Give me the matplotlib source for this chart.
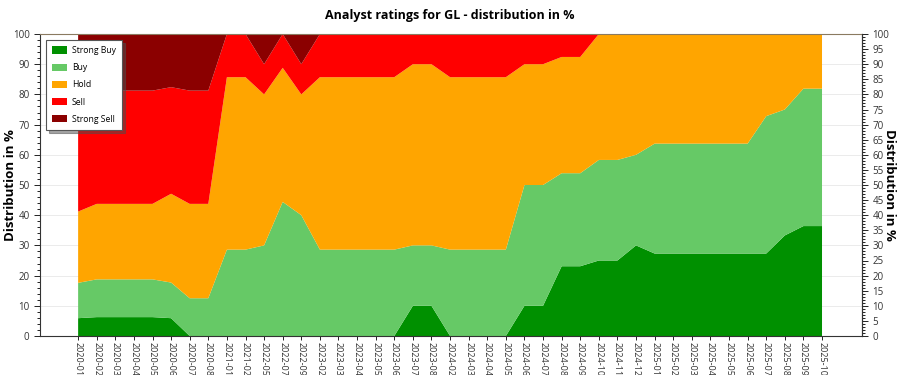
import numpy as np
import matplotlib
matplotlib.use("Agg")
import matplotlib.pyplot as plt
from matplotlib.ticker import MultipleLocator

plt.rcParams['font.family'] = ['Open Sans', 'DejaVu Sans']

labels = ["2020-01", "2020-02", "2020-03", "2020-04", "2020-05", "2020-06", "2020-07", "2020-08",
          "2021-01", "2021-02", "2022-05", "2022-07", "2022-09", "2023-02", "2023-03", "2023-04",
          "2023-05", "2023-06", "2023-07", "2023-08", "2024-02", "2024-03", "2024-04", "2024-05",
          "2024-06", "2024-07", "2024-08", "2024-09", "2024-10", "2024-11", "2024-12", "2025-01",
          "2025-02", "2025-03", "2025-04", "2025-05", "2025-06", "2025-07", "2025-08", "2025-09",
          "2025-10"]

strong_buy = [5.9, 6.25, 6.25, 6.25, 6.25, 5.9, 0, 0,
              0, 0, 0, 0, 0, 0, 0, 0,
              0, 0, 10, 10, 0, 0, 0, 0,
              10, 10, 23.1, 23.1, 25, 25, 30, 27.3,
              27.3, 27.3, 27.3, 27.3, 27.3, 27.3, 33.3, 36.4,
              36.4]
buy = [11.7, 12.5, 12.5, 12.5, 12.5, 11.8, 12.5, 12.5,
       28.6, 28.6, 30, 44.4, 40, 28.6, 28.6, 28.6,
       28.6, 28.6, 20, 20, 28.6, 28.6, 28.6, 28.6,
       40, 40, 30.8, 30.8, 33.3, 33.3, 30, 36.4,
       36.4, 36.4, 36.4, 36.4, 36.4, 45.5, 41.7, 45.5,
       45.5]
hold = [23.6, 25, 25, 25, 25, 29.4, 31.25, 31.25,
        57.1, 57.1, 50, 44.4, 40, 57.1, 57.1, 57.1,
        57.1, 57.1, 60, 60, 57.1, 57.1, 57.1, 57.1,
        40, 40, 38.5, 38.5, 41.7, 41.7, 40, 36.3,
        36.3, 36.3, 36.3, 36.3, 36.3, 27.2, 25, 18.1,
        18.1]
sell = [40.0, 37.5, 37.5, 37.5, 37.5, 35.3, 37.5, 37.5,
        14.3, 14.3, 10, 11.2, 10, 14.3, 14.3, 14.3,
        14.3, 14.3, 10, 10, 14.3, 14.3, 14.3, 14.3,
        10, 10, 7.6, 7.6, 0, 0, 0, 0,
        0, 0, 0, 0, 0, 0, 0, 0,
        0]
strong_sell = [18.8, 18.75, 18.75, 18.75, 18.75, 17.6, 18.75, 18.75,
               0, 0, 10, 0, 10, 0, 0, 0,
               0, 0, 0, 0, 0, 0, 0, 0,
               0, 0, 0, 0, 0, 0, 0, 0,
               0, 0, 0, 0, 0, 0, 0, 0,
               0]

series_names = ["Strong Buy", "Buy", "Hold", "Sell", "Strong Sell"]
colors = ["#009000", "#66C966", "#FFA500", "#FF0000", "#8B0000"]

x = np.arange(len(labels))

fig = plt.figure(figsize=(9, 3.75), dpi=100)
ax = fig.add_axes([40/900, 1-336/375, (862-40)/900, (336-34)/375])

ax.stackplot(x, strong_buy, buy, hold, sell, strong_sell, colors=colors,
             labels=series_names, linewidth=0)

ax.set_xlim(-2.05, 42.15)
ax.set_ylim(0, 100)
ax.set_xticks(x)
ax.set_xticklabels(labels, rotation=-90, fontsize=6.5, color="#333333")
ax.tick_params(axis='x', length=3, width=0.6, pad=1)
ax.yaxis.set_major_locator(MultipleLocator(10))
ax.yaxis.set_minor_locator(MultipleLocator(2))
ax.tick_params(axis='y', which='major', length=4, width=0.6, labelsize=7, labelcolor="#333333")
ax.tick_params(axis='y', which='minor', length=2, width=0.6)
ax.grid(axis='y', color="#e8e8e8", linewidth=0.6)
ax.set_axisbelow(True)
for s in ax.spines.values():
    s.set_color("#333333")
    s.set_linewidth(0.8)
ax.spines['top'].set_color("#8a7a60")

ax2 = ax.twinx()
ax2.set_ylim(0, 100)
ax2.yaxis.set_major_locator(MultipleLocator(5))
ax2.yaxis.set_minor_locator(MultipleLocator(1))
ax2.tick_params(axis='y', which='major', length=4, width=0.6, labelsize=7, labelcolor="#333333")
ax2.tick_params(axis='y', which='minor', length=2, width=0.6)
for s in ax2.spines.values():
    s.set_visible(False)
ax2.spines['right'].set_visible(True)
ax2.spines['right'].set_color("#333333")

fig.text(11/900, 1-185/375, "Distribution in %", fontsize=9.5, fontweight='bold',
         rotation=90, ha='center', va='center')
fig.text(889/900, 1-185/375, "Distribution in %", fontsize=9.5, fontweight='bold',
         rotation=-90, ha='center', va='center')

fig.suptitle("Analyst ratings for GL - distribution in %", fontsize=9, fontweight='bold', y=0.975)

leg = ax.legend(loc='upper left', fontsize=6.2, frameon=True, fancybox=False, shadow=True,
                borderpad=0.7, labelspacing=0.95, handlelength=1.75, handleheight=0.9,
                handletextpad=0.55, borderaxespad=0.0, bbox_to_anchor=(6/822, 1-6/302))
leg.get_frame().set_edgecolor("#555555")
leg.get_frame().set_linewidth(0.8)

fig.savefig("out.png", dpi=100)
